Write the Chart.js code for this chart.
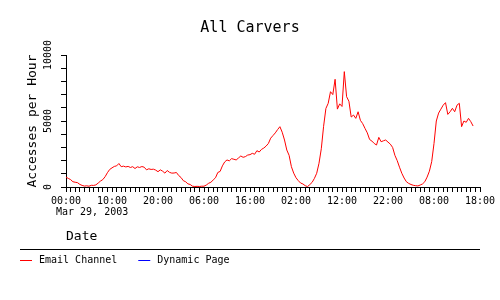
<!DOCTYPE html>
<html>
<head>
<meta charset="utf-8">
<script src="https://cdn.jsdelivr.net/npm/chart.js@4"></script>
<style>body{margin:0;background:#fff}</style>
</head>
<body>
<canvas id="chart" width="500" height="300"></canvas>
<script>
const chartTitle = 'All Carvers';
const yTitle = 'Accesses per Hour';
const xTitle = 'Date';
const startDate = 'Mar 29, 2003';
const seriesNames = ['Email Channel', 'Dynamic Page'];
const seriesColors = ['#ff0000', '#0000ff'];
const sampleStep = 0.5; // hours between samples
const xMax = 90;        // hours shown on the axis
const yMax = 10000;

// Email Channel, one reading every half hour starting 00:00 Mar 29
const emailChannel = [
  750, 650, 560, 400, 360, 330, 200, 120, 70, 90, 60, 130, 120, 160, 300, 450, 560, 780, 1080, 1330,
  1450, 1560, 1600, 1780, 1540, 1580, 1520, 1560, 1480, 1540, 1400, 1530, 1480, 1550, 1500, 1300, 1380, 1330, 1350, 1280,
  1160, 1300, 1200, 1050, 1250, 1110, 1050, 1060, 1100, 870, 720, 480, 400, 240, 190, 60, 40, 50, 40, 60,
  60, 150, 280, 360, 530, 700, 1100, 1180, 1600, 1900, 2050, 1980, 2150, 2100, 2050, 2200, 2350, 2250, 2300, 2420,
  2450, 2550, 2480, 2750, 2650, 2850, 2950, 3100, 3300, 3700, 3900, 4100, 4350, 4570, 4150, 3560, 2800, 2400, 1540, 1050,
  700, 480, 300, 230, 100, 30, 180, 350, 650, 1040, 1800, 2900, 4600, 5950, 6340, 7220, 7000, 8160, 5900, 6300,
  6100, 8740, 6840, 6500, 5300, 5450, 5200, 5700, 5050, 4800, 4440, 4100, 3600, 3480, 3300, 3180, 3760, 3430, 3500, 3560,
  3400, 3250, 3000, 2400, 2000, 1500, 1040, 680, 400, 270, 190, 130, 100, 80, 150, 230, 400, 750, 1200, 1920,
  3300, 5000, 5600, 5900, 6200, 6390, 5500, 5700, 5960, 5700, 6200, 6340, 4570, 5000, 4900, 5200, 4950, 4620
];
const dynamicPage = [];

function toPoints(values) {
  return values.map((v, i) => ({ x: i * sampleStep, y: v }));
}

function hourLabel(h) {
  return String(h % 24).padStart(2, '0') + ':00';
}

// date line under the first tick, plus the legend strip at the bottom
const bottomStrip = {
  id: 'bottomStrip',
  afterDraw(chart) {
    const ctx = chart.ctx;
    const xs = chart.scales.x;
    ctx.save();
    ctx.fillStyle = '#000';
    ctx.font = '10px "DejaVu Sans Mono"';
    ctx.textBaseline = 'middle';
    ctx.textAlign = 'left';
    ctx.fillText(startDate, xs.getPixelForValue(0) - 10, xs.top + 25);

    ctx.strokeStyle = '#000';
    ctx.lineWidth = 1;
    ctx.beginPath();
    ctx.moveTo(20, 249.5);
    ctx.lineTo(480, 249.5);
    ctx.stroke();

    let x = 20;
    chart.data.datasets.forEach(ds => {
      ctx.strokeStyle = ds.borderColor;
      ctx.beginPath();
      ctx.moveTo(x, 260.5);
      ctx.lineTo(x + 12, 260.5);
      ctx.stroke();
      ctx.fillText(ds.label, x + 19, 260.5);
      x += 19 + ctx.measureText(ds.label).width + 21;
    });
    ctx.restore();
  }
};

Chart.defaults.font.family = '"DejaVu Sans Mono", monospace';
Chart.defaults.color = '#000';

new Chart(document.getElementById('chart'), {
  type: 'line',
  data: {
    datasets: [
      { label: seriesNames[0], data: toPoints(emailChannel), borderColor: seriesColors[0], borderWidth: 1, pointRadius: 0, tension: 0 },
      { label: seriesNames[1], data: toPoints(dynamicPage), borderColor: seriesColors[1], borderWidth: 1, pointRadius: 0, tension: 0 }
    ]
  },
  options: {
    responsive: false,
    animation: false,
    layout: { padding: { left: 20, right: 20, top: 0, bottom: 56 } },
    plugins: {
      legend: { display: false },
      tooltip: { enabled: false },
      title: {
        display: true,
        text: chartTitle,
        font: { size: 15, weight: 'normal' },
        padding: { top: 19, bottom: 18 }
      }
    },
    scales: {
      x: {
        type: 'linear',
        min: 0,
        max: xMax,
        afterFit: s => { s.height = 57; },
        border: { color: '#000', width: 1 },
        grid: { drawOnChartArea: false, color: '#000', tickLength: 5 },
        ticks: {
          stepSize: 1,
          maxTicksLimit: 200,
          autoSkip: false,
          maxRotation: 0,
          padding: 3,
          font: { size: 10 },
          callback: v => (v % 10 === 0 ? hourLabel(v) : '')
        },
        title: {
          display: true,
          text: xTitle,
          align: 'start',
          font: { size: 13 },
          padding: { top: 0, bottom: 0 }
        }
      },
      y: {
        min: 0,
        max: yMax,
        afterFit: s => { s.width = 46; },
        border: { color: '#000', width: 1 },
        grid: { drawOnChartArea: false, color: '#000', tickLength: 5 },
        ticks: {
          stepSize: 1000,
          maxTicksLimit: 20,
          autoSkip: false,
          minRotation: 90,
          maxRotation: 90,
          crossAlign: 'center',
          padding: -2,
          font: { size: 10 },
          callback: v => (v % 5000 === 0 ? String(v) : '')
        },
        title: {
          display: true,
          text: yTitle,
          font: { size: 13 },
          padding: { top: 5, bottom: 0 }
        }
      }
    }
  },
  plugins: [bottomStrip]
});
</script>
</body>
</html>
